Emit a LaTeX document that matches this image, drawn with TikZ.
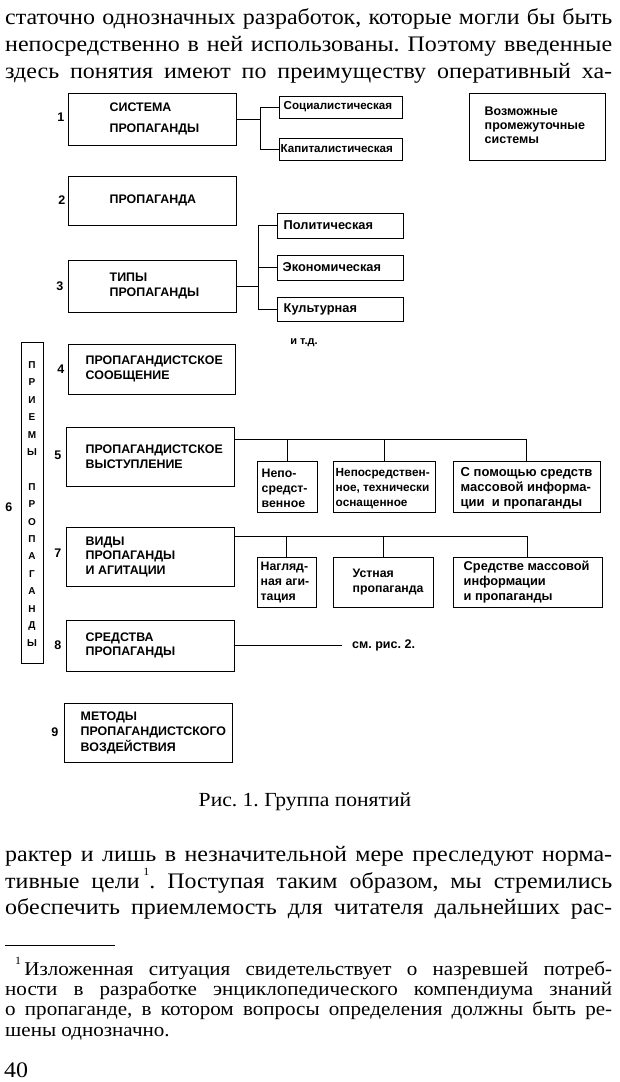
\documentclass[tikz,border=0pt]{standalone}
\usepackage{fontspec}
\setmainfont{Liberation Serif}[FakeStretch=1.08]
\setsansfont{Liberation Sans}
\usetikzlibrary{positioning}
\frenchspacing

\newcommand{\fnmark}[1]{\raisebox{0.55em}{\fontsize{11}{11}\selectfont #1}}

\tikzset{
  bx/.style={draw, line width=1pt, inner sep=0pt},
  lbl/.style={font=\sffamily\bfseries\fontsize{12.4}{14.5}\selectfont, align=left, inner sep=0pt},
  sm/.style={lbl, font=\sffamily\bfseries\fontsize{12.3}{15}\selectfont},
  num/.style={font=\sffamily\bfseries\fontsize{12.5}{12}\selectfont, inner sep=0pt},
  txt/.style={font=\fontsize{22.2}{27}\selectfont, inner sep=0pt},
  fn/.style={font=\fontsize{19.5}{20}\selectfont, inner sep=0pt},
  wire/.style={line width=0.9pt},
}

\begin{document}
\begin{tikzpicture}[x=1pt,y=-1pt]
\useasboundingbox (0,0) rectangle (620,1082);

% text above the figure
\node[txt, anchor=base west] (l1) at (5,24) {\makebox[607pt][s]{статочно однозначных разработок, которые могли бы быть}};
\node[txt, anchor=base west] (l2) at (5,51) {\makebox[607pt][s]{непосредственно в ней использованы. Поэтому введенные}};
\node[txt, anchor=base west] (l3) at (5,78) {\makebox[607pt][s]{здесь понятия имеют по преимуществу оперативный ха-}};

% 1
\node[bx, minimum width=168pt, minimum height=52pt] (sys) at (152,119) {};
\node[lbl, anchor=west] (syst) at ([xshift=42pt]sys.west) {СИСТЕМА\\[7pt]ПРОПАГАНДЫ};
\node[num, anchor=east] (n1) at ([xshift=-3pt,yshift=2pt]sys.west) {1};
\node[bx, minimum width=123pt, minimum height=22pt] (soc) at (340.5,107) {};
\node[sm, font=\sffamily\bfseries\fontsize{11.6}{14}\selectfont, anchor=west] (soct) at ([xshift=5pt]soc.west) {Социалистическая};
\node[bx, minimum width=123pt, minimum height=22pt] (kap) at (340.5,149) {};
\node[sm, font=\sffamily\bfseries\fontsize{11.6}{14}\selectfont, anchor=west] (kapt) at ([xshift=2pt]kap.west) {Капиталистическая};
\draw[wire] (sys.east) -- ++(24,0) coordinate (j1);
\draw[wire] (soc.west) -| (j1) |- (kap.west);
\node[bx, minimum width=136pt, minimum height=67pt] (voz) at (537,126.5) {};
\node[sm, font=\sffamily\bfseries\fontsize{12.5}{14}\selectfont, anchor=west] (vozt) at ([xshift=16pt,yshift=1pt]voz.west) {Возможные\\промежуточные\\системы};

% 2
\node[bx, minimum width=168pt, minimum height=49pt] (prop) at (152,200.5) {};
\node[lbl, anchor=west] (propt) at ([xshift=42pt]prop.west) {ПРОПАГАНДА};
\node[num, anchor=east] (n2) at ([xshift=-2pt]prop.west) {2};

% 3
\node[bx, minimum width=168pt, minimum height=52pt] (typ) at (152,286) {};
\node[lbl, anchor=west] (typt) at ([xshift=42pt]typ.west) {ТИПЫ\\[1pt]ПРОПАГАНДЫ};
\node[num, anchor=east] (n3) at ([xshift=-4pt]typ.west) {3};
\node[bx, minimum width=126pt, minimum height=25pt] (pol) at (340,225.5) {};
\node[sm, font=\sffamily\bfseries\fontsize{12.8}{14}\selectfont, anchor=west] (polt) at ([xshift=7pt]pol.west) {Политическая};
\node[bx, minimum width=126pt, minimum height=25pt] (eco) at (340,267.5) {};
\node[sm, font=\sffamily\bfseries\fontsize{12.8}{14}\selectfont, anchor=west] (ecot) at ([xshift=6pt]eco.west) {Экономическая};
\node[bx, minimum width=126pt, minimum height=24pt] (cul) at (340,309) {};
\node[sm, font=\sffamily\bfseries\fontsize{12.8}{14}\selectfont, anchor=west] (cult) at ([xshift=7pt]cul.west) {Культурная};
\draw[wire] (typ.east) -- ++(22,0) coordinate (j3);
\draw[wire] (pol.west) -| (j3) |- (cul.west);
\draw[wire] (eco.west) -- (eco.west -| j3);
\node[lbl, font=\sffamily\bfseries\fontsize{11}{12}\selectfont] (etc) at (304,343) {и т.д.};

% 6
\node[bx, minimum width=22pt, minimum height=321pt] (prm) at (32,502.5) {};
\foreach \ch [count=\i] in {П,Р,И,Е,М,Ы}
  \node[lbl, font=\sffamily\bfseries\fontsize{10}{10}\selectfont] (pa\i) at (32,{365+17.4*(\i-1)}) {\ch};
\foreach \ch [count=\i] in {П,Р,О,П,А,Г,А,Н,Д,Ы}
  \node[lbl, font=\sffamily\bfseries\fontsize{10}{10}\selectfont] (pb\i) at (32,{486.8+17.4*(\i-1)}) {\ch};
\node[num, anchor=east] (n6) at ([xshift=-8pt,yshift=-5pt]prm.west) {6};

% 4
\node[bx, minimum width=167pt, minimum height=50pt] (msg) at (151.5,369) {};
\node[lbl, anchor=west] (msgt) at ([xshift=18pt]msg.west) {ПРОПАГАНДИСТСКОЕ\\[1pt]СООБЩЕНИЕ};
\node[num, anchor=east] (n4) at ([xshift=-3pt]msg.west) {4};

% 5
\node[bx, minimum width=168pt, minimum height=59pt] (spc) at (150,456.5) {};
\node[lbl, anchor=west] (spct) at ([xshift=20pt]spc.west) {ПРОПАГАНДИСТСКОЕ\\ВЫСТУПЛЕНИЕ};
\node[num, anchor=east] (n5) at ([xshift=-4pt,yshift=1pt]spc.west) {5};
\node[bx, minimum width=60pt, minimum height=51pt] (dir) at (287,486.5) {};
\node[sm, anchor=west] (dirt) at ([xshift=5pt,yshift=-2pt]dir.west) {Непо-\\средст-\\венное};
\node[bx, minimum width=102pt, minimum height=51pt] (tec) at (384,486.5) {};
\node[sm, font=\sffamily\bfseries\fontsize{11.8}{15}\selectfont, anchor=west] (tect) at ([xshift=3pt,yshift=-2pt]tec.west) {Непосредствен-\\ное, технически\\оснащенное};
\node[bx, minimum width=147pt, minimum height=51pt] (mas) at (526.5,486.5) {};
\node[sm, font=\sffamily\bfseries\fontsize{13}{15}\selectfont, anchor=west] (mast) at ([xshift=8pt,yshift=-2pt]mas.west) {С помощью средств\\массовой информа-\\ции \ и пропаганды};
\coordinate (j5) at ([yshift=-13pt]spc.north east);
\draw[wire] (j5) -| (mas.north);
\draw[wire] (dir.north) -- (dir.north |- j5);
\draw[wire] (tec.north) -- (tec.north |- j5);

% 7
\node[bx, minimum width=168pt, minimum height=59pt] (kind) at (150,556.5) {};
\node[lbl, anchor=west] (kindt) at ([xshift=20pt]kind.west) {ВИДЫ\\ПРОПАГАНДЫ\\И АГИТАЦИИ};
\node[num, anchor=east] (n7) at ([xshift=-4pt,yshift=3pt]kind.west) {7};
\node[bx, minimum width=59pt, minimum height=50pt] (vis) at (286.5,582) {};
\node[sm, anchor=west] (vist) at ([xshift=4pt]vis.west) {Нагляд-\\ная аги-\\тация};
\node[bx, minimum width=100pt, minimum height=50pt] (ora) at (383,582) {};
\node[sm, anchor=west] (orat) at ([xshift=20pt]ora.west) {Устная\\пропаганда};
\node[bx, minimum width=149pt, minimum height=50pt] (med) at (527.5,582) {};
\node[sm, font=\sffamily\bfseries\fontsize{12.8}{15}\selectfont, anchor=west] (medt) at ([xshift=11pt]med.west) {Средстве массовой\\информации\\и пропаганды};
\coordinate (j7) at ([yshift=-10pt]kind.north east);
\draw[wire] (j7) -| (med.north);
\draw[wire] (vis.north) -- (vis.north |- j7);
\draw[wire] (ora.north) -- (ora.north |- j7);

% 8
\node[bx, minimum width=168pt, minimum height=51pt] (mean) at (150,645.5) {};
\node[lbl, anchor=west] (meant) at ([xshift=20pt]mean.west) {СРЕДСТВА\\ПРОПАГАНДЫ};
\node[num, anchor=east] (n8) at ([xshift=-4pt]mean.west) {8};
\node[lbl, font=\sffamily\bfseries\fontsize{12.5}{14}\selectfont, anchor=west, inner xsep=10pt] (see) at (342,645.5) {см. рис. 2.};
\draw[wire] (mean.east) -- (mean.east -| see.west);

% 9
\node[bx, minimum width=168pt, minimum height=59pt] (meth) at (148,732.5) {};
\node[lbl, anchor=west] (metht) at ([xshift=17pt]meth.west) {МЕТОДЫ\\[1pt]ПРОПАГАНДИСТСКОГО\\[1pt]ВОЗДЕЙСТВИЯ};
\node[num, anchor=east] (n9) at ([xshift=-5pt]meth.west) {9};

% caption
\node[txt, font=\fontsize{20}{20}\selectfont] (figcap) at (305,802) {Рис. 1. Группа понятий};

% text below the figure
\node[txt, anchor=base west] (l4) at (5,861) {\makebox[607pt][s]{рактер и лишь в незначительной мере преследуют норма-}};
\node[txt, anchor=base west] (l5) at (5,888) {\makebox[607pt][s]{тивные цели\,\fnmark{1}. Поступая таким образом, мы стремились}};
\node[txt, anchor=base west] (l6) at (5,914) {\makebox[607pt][s]{обеспечить приемлемость для читателя дальнейших рас-}};

% footnote
\draw[line width=0.8pt] (5,945) -- (115,945);
\node[fn, anchor=base west] (f1) at (15,975) {\makebox[597pt][s]{\fnmark{1}\,Изложенная ситуация свидетельствует о назревшей потреб-}};
\node[fn, anchor=base west] (f2) at (5,995) {\makebox[607pt][s]{ности в разработке энциклопедического компендиума знаний}};
\node[fn, anchor=base west] (f3) at (5,1015) {\makebox[607pt][s]{о пропаганде, в котором вопросы определения должны быть ре-}};
\node[fn, anchor=base west] (f4) at (5,1036) {шены однозначно.};

\node[txt, anchor=base west] (page) at (4,1077) {40};
\end{tikzpicture}
\end{document}
